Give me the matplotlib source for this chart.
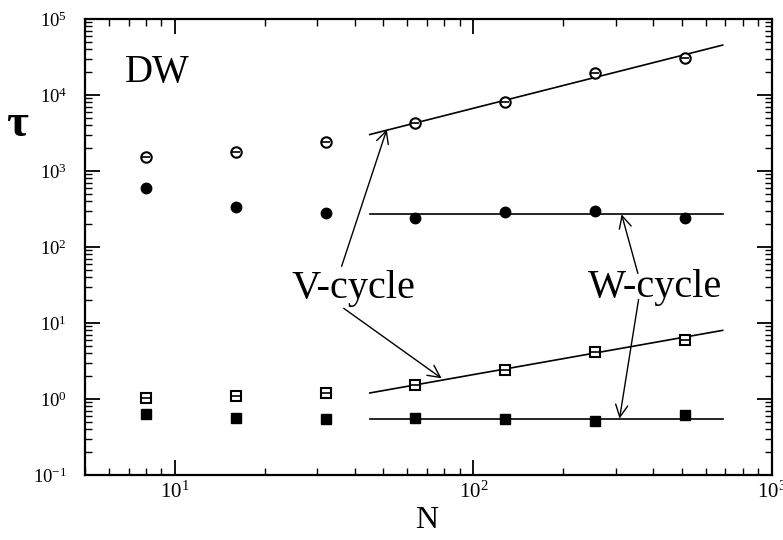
import matplotlib
matplotlib.use("Agg")
import matplotlib.pyplot as plt
import numpy as np

# ---- data ----
N = [8, 16, 32, 64, 128, 256, 512]
tau_open_circle = [1525, 1795, 2380, 4290, 8190, 19400, 31000]
tau_filled_circle = [595, 339, 276, 240, 291, 294, 240]
tau_open_square = [1.02, 1.10, 1.21, 1.51, 2.41, 4.09, 5.93]
tau_filled_square = [0.63, 0.56, 0.55, 0.557, 0.547, 0.52, 0.61]

fit_N = [45, 685]
fit_open_circle = [3020, 45400]
fit_filled_circle = [275, 275]
fit_open_square = [1.20, 8.0]
fit_filled_square = [0.55, 0.55]

# annotation arrows: (tail, tip) in data coordinates
v_arrows = [((36.2, 55.7), (51.3, 3520)), ((36.8, 15.6), (78.3, 1.87))]
w_arrows = [((356, 44.9), (314, 269)), ((358, 20.4), (309, 0.552))]

plt.rcParams['font.family'] = ['Liberation Serif', 'DejaVu Serif']
plt.rcParams['mathtext.fontset'] = 'stix'

fig = plt.figure(figsize=(7.83, 5.40), dpi=100)
ax = fig.add_axes([0.1086, 0.1204, 0.877, 0.8444])
ax.set_xscale('log')
ax.set_yscale('log')
ax.set_xlim(5, 1000)
ax.set_ylim(0.1, 1e5)

# fit lines
for fy in (fit_open_circle, fit_filled_circle, fit_open_square, fit_filled_square):
    ax.plot(fit_N, fy, color='black', lw=1.2, zorder=2)

ms = 7.5
ax.plot(N, tau_open_circle, 'o', ms=ms, mfc='white', mec='black', mew=1.5, zorder=3)
ax.plot(N, tau_open_circle, '_', ms=ms * 0.8, mec='black', mew=1.2, zorder=4)
ax.plot(N, tau_filled_circle, 'o', ms=ms, mfc='black', mec='black', zorder=3)
ax.plot(N, tau_open_square, 's', ms=ms * 0.95, mfc='white', mec='black', mew=1.5, zorder=3)
ax.plot(N, tau_open_square, '_', ms=ms * 0.8, mec='black', mew=1.2, zorder=4)
ax.plot(N, tau_filled_square, 's', ms=ms * 0.95, mfc='black', mec='black', zorder=3)

arrowprops = dict(arrowstyle='->', lw=1.0, color='black', mutation_scale=22,
                  shrinkA=0, shrinkB=0)
for tail, tip in v_arrows + w_arrows:
    ax.annotate('', xy=tip, xytext=tail, arrowprops=arrowprops, zorder=5)

ax.text(0.301, 0.388, 'V-cycle', transform=ax.transAxes, fontsize=29,
        ha='left', va='baseline', zorder=6,
        bbox=dict(facecolor='none', edgecolor='none', pad=0))
ax.text(0.732, 0.390, 'W-cycle', transform=ax.transAxes, fontsize=29,
        ha='left', va='baseline', zorder=6)
ax.text(0.058, 0.862, 'DW', transform=ax.transAxes, fontsize=28,
        ha='left', va='baseline')

fig.text(0.0217, 0.769, 'τ', fontsize=34, fontweight='bold', ha='center', va='center')
fig.text(0.545, 0.037, 'N', fontsize=23, ha='center', va='center')

for s in ax.spines.values():
    s.set_linewidth(1.6)
ax.tick_params(which='both', direction='in', top=True, right=True)
ax.tick_params(which='major', length=11, width=1.3)
ax.tick_params(which='minor', length=5, width=1.0)
ax.tick_params(axis='y', which='major', pad=13, labelsize=13.5)
ax.tick_params(axis='x', which='major', pad=5, labelsize=15)

fig.savefig('out.png', dpi=100)
